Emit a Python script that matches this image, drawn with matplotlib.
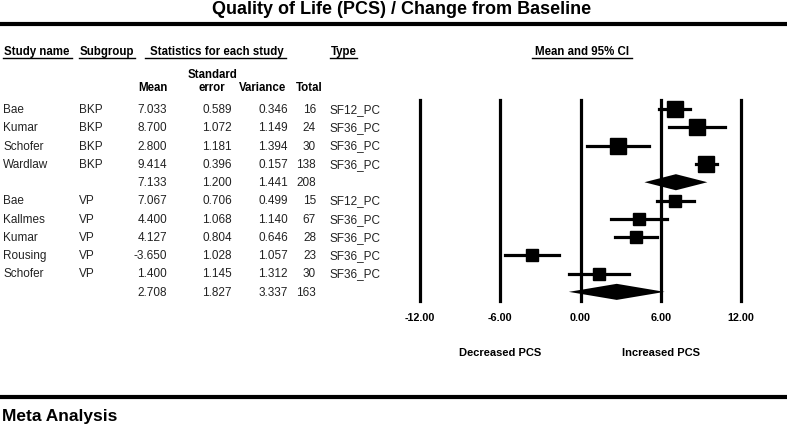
import matplotlib.pyplot as plt
import numpy as np

plt.rcParams['font.family'] = ['Liberation Sans', 'DejaVu Sans']

# study rows (None = subgroup summary)
study = ['Bae', 'Kumar', 'Schofer', 'Wardlaw', None,
         'Bae', 'Kallmes', 'Kumar', 'Rousing', 'Schofer', None]
subgroup = ['BKP', 'BKP', 'BKP', 'BKP', None,
            'VP', 'VP', 'VP', 'VP', 'VP', None]
mean = [7.033, 8.700, 2.800, 9.414, 7.133,
        7.067, 4.400, 4.127, -3.650, 1.400, 2.708]
se = [0.589, 1.072, 1.181, 0.396, 1.200,
      0.706, 1.068, 0.804, 1.028, 1.145, 1.827]
variance = [0.346, 1.149, 1.394, 0.157, 1.441,
            0.499, 1.140, 0.646, 1.057, 1.312, 3.337]
total = [16, 24, 30, 138, 208, 15, 67, 28, 23, 30, 163]
stype = ['SF12_PC', 'SF36_PC', 'SF36_PC', 'SF36_PC', '',
         'SF12_PC', 'SF36_PC', 'SF36_PC', 'SF36_PC', 'SF36_PC', '']
xticks = [-12, -6, 0, 6, 12]

W, H = 787, 427
fig = plt.figure(figsize=(W / 100, H / 100), dpi=100)

# background axes in pixel units for the table part
bg = fig.add_axes([0, 0, 1, 1])
bg.set_xlim(0, W)
bg.set_ylim(H, 0)
bg.axis('off')

bg.text(402, 9, 'Quality of Life (PCS) / Change from Baseline', ha='center', va='center',
        fontsize=13, fontweight='bold')
bg.plot([0, W], [25, 25], color='black', lw=3)
bg.plot([0, W], [398, 398], color='black', lw=3)
bg.text(2, 417, 'Meta Analysis', ha='left', va='center', fontsize=12.5, fontweight='bold')

# headers with underlines
hy = 52
heads = [('Study name', 4, 3, 72), ('Subgroup', 80, 79, 135),
         ('Statistics for each study', 150, 145, 286), ('Type', 331, 330, 357)]
for txt, x, u0, u1 in heads:
    bg.text(x, hy, txt, ha='left', va='center', fontsize=8.3, fontweight='bold')
    bg.plot([u0, u1], [hy + 7, hy + 7], color='black', lw=1)
bg.text(582, hy, 'Mean and 95% CI', ha='center', va='center', fontsize=8.3, fontweight='bold')
bg.plot([532, 632], [hy + 7, hy + 7], color='black', lw=1)

bg.text(168, 88, 'Mean', ha='right', va='center', fontsize=8.3, fontweight='bold')
bg.text(212, 75, 'Standard', ha='center', va='center', fontsize=8.3, fontweight='bold')
bg.text(212, 88, 'error', ha='center', va='center', fontsize=8.3, fontweight='bold')
bg.text(286, 88, 'Variance', ha='right', va='center', fontsize=8.3, fontweight='bold')
bg.text(323, 88, 'Total', ha='right', va='center', fontsize=8.3, fontweight='bold')

row_y = 110
dy = 18.27
for i in range(len(mean)):
    y = row_y + i * dy
    if study[i]:
        bg.text(3, y, study[i], ha='left', va='center', fontsize=8.5, color='#222222')
        bg.text(79, y, subgroup[i], ha='left', va='center', fontsize=8.5, color='#222222')
    bg.text(167, y, f'{mean[i]:.3f}', ha='right', va='center', fontsize=8.5, color='#222222')
    bg.text(232, y, f'{se[i]:.3f}', ha='right', va='center', fontsize=8.5, color='#222222')
    bg.text(288, y, f'{variance[i]:.3f}', ha='right', va='center', fontsize=8.5, color='#222222')
    bg.text(316, y, str(total[i]), ha='right', va='center', fontsize=8.5, color='#222222')
    bg.text(329, y, stype[i], ha='left', va='center', fontsize=8.5, color='#222222')

# forest plot axes: x -12..12 maps to px 420..741, rows span px 101..302
ax = fig.add_axes([420 / W, 1 - 302 / H, 321 / W, 201 / H])
ax.set_xlim(-12, 12)
ax.set_ylim(len(mean) - 0.5, -0.5)
ax.patch.set_alpha(0)
for s in ax.spines.values():
    s.set_visible(False)
ax.set_yticks([])
for xv in xticks:
    ax.axvline(xv, color='black', lw=2.3, zorder=1, clip_on=False)
ax.set_xticks(xticks)
ax.set_xticklabels([f'{v:.2f}' for v in xticks], fontsize=7.8, fontweight='bold')
ax.tick_params(axis='x', length=0, pad=8)


def re_weights(v, summ_var):
    # find tau^2 so that random-effects weights reproduce the subgroup variance
    v = np.asarray(v)
    lo, hi = 0.0, 100.0
    for _ in range(60):
        t = (lo + hi) / 2
        if np.sum(1 / (v + t)) > 1 / summ_var:
            lo = t
        else:
            hi = t
    return 1 / (v + t)


groups = [(0, 4, 4), (5, 10, 10)]
for a, b, s_idx in groups:
    w = re_weights(variance[a:b], variance[s_idx])
    for k, i in enumerate(range(a, b)):
        lo = mean[i] - 1.96 * se[i]
        hi = mean[i] + 1.96 * se[i]
        ax.plot([lo, hi], [i, i], color='black', lw=2.3, zorder=3)
        ax.plot(mean[i], i, marker='s', color='black',
                markersize=6.6 + 11 * np.sqrt(w[k]), zorder=4)
    m = mean[s_idx]
    lo = m - 1.96 * se[s_idx]
    hi = m + 1.96 * se[s_idx]
    ax.fill([lo, m, hi, m], [s_idx, s_idx - 0.44, s_idx, s_idx + 0.44],
            color='black', zorder=4, lw=0)

bg.text(500, 353, 'Decreased PCS', ha='center', va='center', fontsize=8, fontweight='bold')
bg.text(661, 353, 'Increased PCS', ha='center', va='center', fontsize=8, fontweight='bold')

fig.savefig('out.png', dpi=100)
